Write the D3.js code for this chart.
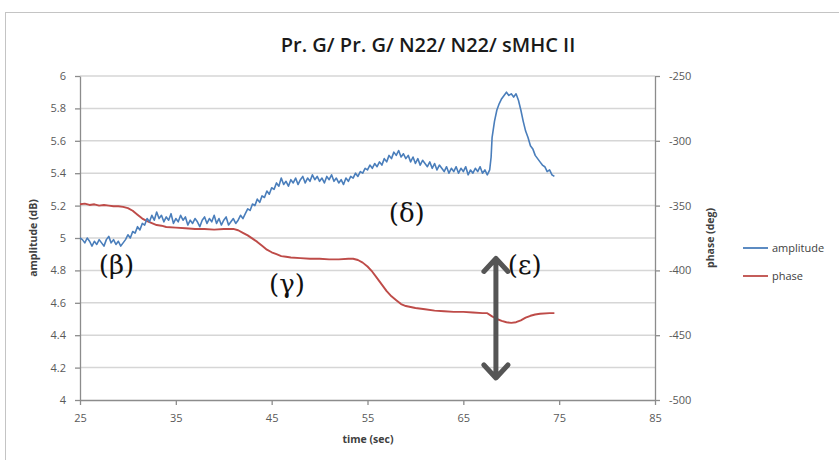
<!DOCTYPE html>
<html>
<head>
<meta charset="utf-8">
<script src="https://cdn.jsdelivr.net/npm/d3@7"></script>
<style>
  body { margin: 0; background: #fff; }
  svg { display: block; }
</style>
</head>
<body>
<div id="chart"></div>
<script>
// data: [time (sec), value]
const amplitude = [
  [25.00,5.00],[25.25,4.99],[25.50,4.97],[25.75,5.00],[26.00,4.98],[26.25,4.95],[26.50,4.98],[26.75,4.96],
  [27.00,4.99],[27.25,4.97],[27.50,4.95],[27.75,4.99],[28.00,5.01],[28.25,4.97],[28.50,4.99],[28.75,4.96],
  [29.00,4.98],[29.25,4.95],[29.50,4.97],[29.75,4.99],[30.00,5.02],[30.25,5.00],[30.50,5.04],[30.75,5.03],
  [31.00,5.07],[31.25,5.05],[31.50,5.09],[31.75,5.08],[32.00,5.12],[32.25,5.10],[32.50,5.14],[32.75,5.11],
  [33.00,5.16],[33.25,5.12],[33.50,5.14],[33.75,5.10],[34.00,5.13],[34.25,5.11],[34.50,5.15],[34.75,5.09],
  [35.00,5.12],[35.25,5.10],[35.50,5.14],[35.75,5.11],[36.00,5.13],[36.25,5.08],[36.50,5.11],[36.75,5.09],
  [37.00,5.12],[37.25,5.10],[37.50,5.07],[37.75,5.11],[38.00,5.13],[38.25,5.09],[38.50,5.12],[38.75,5.10],
  [39.00,5.14],[39.25,5.09],[39.50,5.12],[39.75,5.08],[40.00,5.11],[40.25,5.13],[40.50,5.08],[40.75,5.10],
  [41.00,5.12],[41.25,5.09],[41.50,5.11],[41.75,5.14],[42.00,5.12],[42.25,5.15],[42.50,5.18],[42.75,5.17],
  [43.00,5.21],[43.25,5.20],[43.50,5.24],[43.75,5.22],[44.00,5.26],[44.25,5.25],[44.50,5.29],[44.75,5.27],
  [45.00,5.31],[45.25,5.30],[45.50,5.34],[45.75,5.32],[46.00,5.37],[46.25,5.33],[46.50,5.35],[46.75,5.32],
  [47.00,5.36],[47.25,5.34],[47.50,5.37],[47.75,5.33],[48.00,5.36],[48.25,5.38],[48.50,5.34],[48.75,5.37],
  [49.00,5.35],[49.25,5.39],[49.50,5.36],[49.75,5.38],[50.00,5.35],[50.25,5.37],[50.50,5.34],[50.75,5.38],
  [51.00,5.36],[51.25,5.39],[51.50,5.35],[51.75,5.37],[52.00,5.34],[52.25,5.36],[52.50,5.33],[52.75,5.37],
  [53.00,5.35],[53.25,5.38],[53.50,5.37],[53.75,5.40],[54.00,5.38],[54.25,5.41],[54.50,5.40],[54.75,5.43],
  [55.00,5.42],[55.25,5.45],[55.50,5.43],[55.75,5.46],[56.00,5.44],[56.25,5.47],[56.50,5.45],[56.75,5.49],
  [57.00,5.47],[57.25,5.51],[57.50,5.49],[57.75,5.53],[58.00,5.51],[58.25,5.54],[58.50,5.50],[58.75,5.52],
  [59.00,5.49],[59.25,5.51],[59.50,5.47],[59.75,5.50],[60.00,5.46],[60.25,5.49],[60.50,5.45],[60.75,5.48],
  [61.00,5.46],[61.25,5.44],[61.50,5.47],[61.75,5.43],[62.00,5.46],[62.25,5.42],[62.50,5.45],[62.75,5.43],
  [63.00,5.41],[63.25,5.44],[63.50,5.40],[63.75,5.43],[64.00,5.41],[64.25,5.44],[64.50,5.40],[64.75,5.43],
  [65.00,5.41],[65.25,5.44],[65.50,5.39],[65.75,5.42],[66.00,5.40],[66.25,5.43],[66.50,5.41],[66.75,5.44],
  [67.00,5.40],[67.25,5.42],[67.50,5.39],[67.75,5.42],[67.90,5.50],[68.00,5.62],[68.25,5.72],[68.50,5.79],
  [68.75,5.83],[69.00,5.86],[69.25,5.88],[69.50,5.90],[69.75,5.88],[70.00,5.89],[70.25,5.87],[70.50,5.89],
  [70.75,5.85],[71.00,5.79],[71.25,5.72],[71.50,5.66],[71.75,5.62],[72.00,5.57],[72.25,5.55],[72.50,5.51],
  [72.75,5.49],[73.00,5.47],[73.25,5.45],[73.50,5.44],[73.75,5.41],[74.00,5.42],[74.25,5.39],[74.50,5.38]
]

const phase = [
  [25,-349],[25.5,-348.5],[26,-349.5],[26.5,-349],[27,-350],[27.5,-349.5],[28,-350],[28.5,-350.5],
  [29,-350.5],[29.5,-351],[30,-352],[30.5,-354],[31,-357],[31.5,-360],[32,-362],[32.5,-363.5],
  [33,-365],[33.5,-365.5],[34,-366.5],[35,-367],[36,-367.5],[37,-368],[38,-368],[39,-368.5],
  [40,-368],[41,-368],[41.5,-369],[42,-371],[42.5,-373],[43,-375.5],[43.5,-378],[44,-381],
  [44.5,-384],[45,-386],[45.5,-387.5],[46,-389],[46.5,-389.5],[47,-390],[48,-390.5],[49,-391],
  [50,-391],[51,-391.5],[52,-391.5],[53,-391],[53.5,-391],[54,-392],[54.5,-394],[55,-397],
  [55.5,-401],[56,-406],[56.5,-411],[57,-416],[57.5,-420],[58,-423],[58.5,-426],[59,-427.5],
  [60,-429],[61,-430],[62,-431],[63,-431.5],[64,-432],[65,-432],[66,-432.5],[67,-433],
  [67.5,-433],[68,-435.5],[68.5,-437.5],[69,-439],[69.5,-440],[70,-440.5],[70.5,-440],[71,-438.5],
  [71.5,-436.5],[72,-435],[72.5,-434],[73,-433.5],[74,-433],[74.5,-433]
]

const xTicks = [25, 35, 45, 55, 65, 75, 85]
const ampTicks = [4, 4.2, 4.4, 4.6, 4.8, 5, 5.2, 5.4, 5.6, 5.8, 6]
const phaseTicks = [-500, -450, -400, -350, -300, -250]

const notes = [
  {label: "(β)", t: 28.8, v: 4.78},
  {label: "(γ)", t: 46.6, v: 4.66},
  {label: "(δ)", t: 59.1, v: 5.10},
  {label: "(ε)", t: 71.4, v: 4.78}
]
const legendItems = [
  {name: "amplitude", color: "#4a7ebb"},
  {name: "phase", color: "#be4b48"}
]

const width = 839, height = 460
const margin = {left: 80, right: 184, top: 76, bottom: 60}

const svg = d3.select("#chart").append("svg")
    .attr("width", width)
    .attr("height", height)

// outer chart frame
svg.append("rect")
    .attr("x", 5.5).attr("y", 12.5)
    .attr("width", width).attr("height", height)
    .attr("fill", "#fff")
    .attr("stroke", "#c4c4c4")

const x = d3.scaleLinear().domain([25, 85]).range([margin.left, width - margin.right])
const yA = d3.scaleLinear().domain([4, 6]).range([height - margin.bottom, margin.top])
const yP = d3.scaleLinear().domain([-500, -250]).range([height - margin.bottom, margin.top])

// gridlines
svg.append("g")
    .selectAll("line")
    .data(ampTicks.slice(1))
    .join("line")
    .attr("x1", x(25)).attr("x2", x(85))
    .attr("y1", d => yA(d)).attr("y2", d => yA(d))
    .attr("stroke", "#d6d6d6")
    .attr("stroke-width", 1.5)

function styleAxis(g){
    g.selectAll("path").attr("stroke", "#8c8c8c").attr("stroke-width", 1.3)
    g.selectAll("line").attr("stroke", "#8c8c8c").attr("stroke-width", 1.3)
    g.selectAll("text")
        .attr("fill", "#595959")
        .style("font-family", "'Open Sans', sans-serif")
        .style("font-size", "11px")
}

svg.append("g")
    .attr("transform", `translate(0,${yA(4)})`)
    .call(d3.axisBottom(x).tickValues(xTicks).tickSize(5).tickSizeOuter(0).tickPadding(9))
    .call(styleAxis)

svg.append("g")
    .attr("transform", `translate(${x(25)},0)`)
    .call(d3.axisLeft(yA).tickValues(ampTicks).tickFormat(d3.format("~g")).tickSize(5).tickSizeOuter(0).tickPadding(9))
    .call(styleAxis)

svg.append("g")
    .attr("transform", `translate(${x(85)},0)`)
    .call(d3.axisRight(yP).tickValues(phaseTicks).tickSize(5).tickSizeOuter(0).tickPadding(9))
    .call(styleAxis)

svg.selectAll(".tick text").text(function(){ return this.textContent.replace("−", "-") })

// lines
const lineA = d3.line().x(d => x(d[0])).y(d => yA(d[1]))
const lineP = d3.line().x(d => x(d[0])).y(d => yP(d[1]))

svg.append("path")
    .datum(phase)
    .attr("d", lineP)
    .attr("fill", "none")
    .attr("stroke", legendItems[1].color)
    .attr("stroke-width", 1.9)
    .attr("stroke-linejoin", "round")

svg.append("path")
    .datum(amplitude)
    .attr("d", lineA)
    .attr("fill", "none")
    .attr("stroke", legendItems[0].color)
    .attr("stroke-width", 1.6)
    .attr("stroke-linejoin", "round")

// titles
svg.append("text")
    .attr("x", 428).attr("y", 52)
    .attr("text-anchor", "middle")
    .attr("fill", "#1a1a1a")
    .style("font-family", "'Open Sans', sans-serif")
    .style("font-weight", "600")
    .style("font-size", "20px")
    .text("Pr. G/ Pr. G/ N22/ N22/ sMHC II")

svg.append("text")
    .attr("x", 368).attr("y", 443)
    .attr("text-anchor", "middle")
    .attr("fill", "#404040")
    .style("font-family", "'Open Sans', sans-serif")
    .style("font-weight", "bold")
    .style("font-size", "10.5px")
    .text("time (sec)")

svg.append("text")
    .attr("transform", "translate(37,238) rotate(-90)")
    .attr("text-anchor", "middle")
    .attr("fill", "#404040")
    .style("font-family", "'Open Sans', sans-serif")
    .style("font-weight", "bold")
    .style("font-size", "10.5px")
    .text("amplitude (dB)")

svg.append("text")
    .attr("transform", "translate(714,238) rotate(-90)")
    .attr("text-anchor", "middle")
    .attr("fill", "#404040")
    .style("font-family", "'Open Sans', sans-serif")
    .style("font-weight", "bold")
    .style("font-size", "10.5px")
    .text("phase (deg)")

// legend
const legend = svg.append("g").attr("transform", "translate(743,248)")
const li = legend.selectAll("g").data(legendItems).join("g")
    .attr("transform", (d, i) => `translate(0,${i * 28})`)
li.append("line")
    .attr("x1", 0).attr("x2", 25)
    .attr("stroke", d => d.color)
    .attr("stroke-width", 1.8)
li.append("text")
    .attr("x", 29).attr("y", 4)
    .attr("fill", "#404040")
    .style("font-family", "'Open Sans', sans-serif")
    .style("font-size", "11px")
    .text(d => d.name)

// annotations
svg.append("g")
    .selectAll("text")
    .data(notes)
    .join("text")
    .attr("x", d => x(d.t)).attr("y", d => yA(d.v))
    .attr("text-anchor", "middle")
    .attr("fill", "#111")
    .style("font-family", "'DejaVu Serif', serif")
    .style("font-size", "26px")
    .text(d => d.label)

// double-headed arrow
const ax = x(68.4), aTop = yA(4.88), aBot = yA(4.13)
svg.append("path")
    .attr("d", `M${ax},${aTop + 2}V${aBot - 2}M${ax - 12},${aTop + 14}L${ax},${aTop + 1}L${ax + 12},${aTop + 14}M${ax - 12},${aBot - 14}L${ax},${aBot - 1}L${ax + 12},${aBot - 14}`)
    .attr("fill", "none")
    .attr("stroke", "#555")
    .attr("stroke-width", 5)
    .attr("stroke-linecap", "round")
    .attr("stroke-linejoin", "round")
</script>
</body>
</html>
